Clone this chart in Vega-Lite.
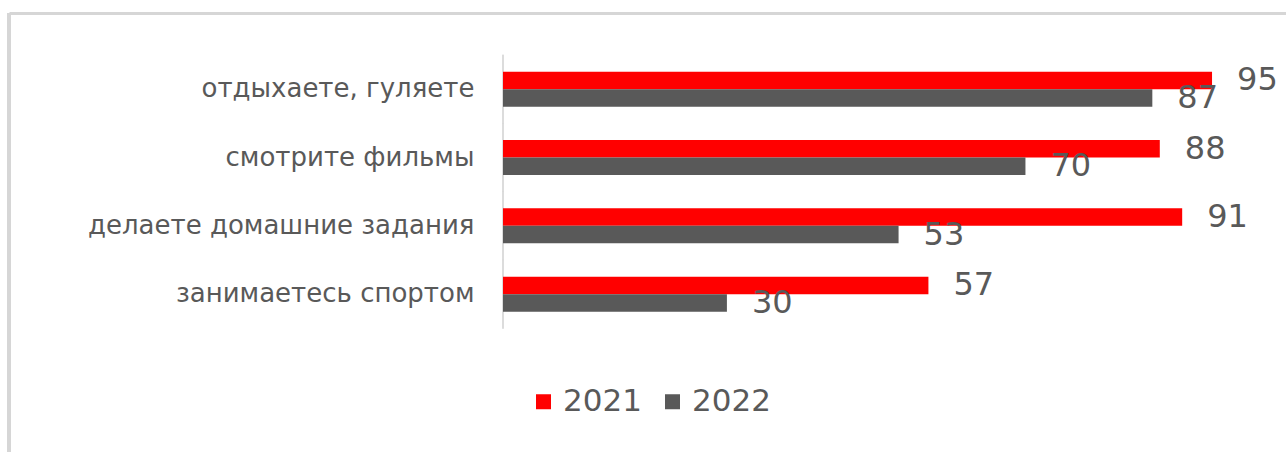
{
  "$schema": "https://vega.github.io/schema/vega-lite/v6.json",
  "width": 1277,
  "height": 376.5,
  "autosize": {"type": "none"},
  "padding": {"left": 9, "top": 13, "right": 0, "bottom": 62.5},
  "background": "white",
  "config": {"view": {"stroke": null}, "font": "DejaVu Sans"},
  "data": {
    "values": [
      {"cat": "отдыхаете, гуляете", "year": "2021", "value": 95},
      {"cat": "отдыхаете, гуляете", "year": "2022", "value": 87},
      {"cat": "смотрите фильмы", "year": "2021", "value": 88},
      {"cat": "смотрите фильмы", "year": "2022", "value": 70},
      {"cat": "делаете домашние задания", "year": "2021", "value": 91},
      {"cat": "делаете домашние задания", "year": "2022", "value": 53},
      {"cat": "занимаетесь спортом", "year": "2021", "value": 57},
      {"cat": "занимаетесь спортом", "year": "2022", "value": 30}
    ]
  },
  "resolve": {"scale": {"y": "independent"}, "axis": {"y": "independent"}},
  "layer": [
    {
      "mark": {"type": "rule", "color": "#d6d6d6", "strokeWidth": 3},
      "encoding": {
        "x": {"datum": -66.19, "type": "quantitative", "scale": {"domain": [-66.19, 104.91], "nice": false, "zero": false},
              "axis": {"orient": "top", "title": null, "labels": false, "ticks": false, "grid": false, "domain": true, "domainColor": "#d6d6d6", "domainWidth": 3}},
        "y": {"datum": 1, "type": "quantitative", "scale": {"domain": [0, 1], "nice": false, "zero": false}, "axis": null},
        "y2": {"datum": -0.3}
      }
    },
    {
      "layer": [
        {
          "mark": {"type": "tick", "color": "#d9d9d9", "thickness": 2, "size": 69},
          "encoding": {
            "x": {"datum": 0, "type": "quantitative"},
            "y": {"field": "cat", "type": "nominal", "sort": ["отдыхаете, гуляете", "смотрите фильмы", "делаете домашние задания", "занимаетесь спортом"],
                  "scale": {"paddingInner": 0.4876, "paddingOuter": 1, "align": 0.43},
                  "axis": {"title": null, "domain": false, "ticks": false, "tickSize": 0, "labelPadding": 29, "offset": -494, "labelFontSize": 26, "labelColor": "#595959", "labelFont": "DejaVu Sans", "labelLimit": 0}}
          }
        },
        {
          "mark": {"type": "bar"},
          "encoding": {
            "x": {"field": "value", "type": "quantitative"},
            "x2": {"datum": 0},
            "y": {"field": "cat", "type": "nominal", "sort": ["отдыхаете, гуляете", "смотрите фильмы", "делаете домашние задания", "занимаетесь спортом"]},
            "yOffset": {"field": "year", "type": "nominal", "scale": {"paddingInner": 0, "paddingOuter": 0}},
            "color": {"field": "year", "type": "nominal",
                      "scale": {"domain": ["2021", "2022"], "range": ["#ff0000", "#595959"]},
                      "legend": {"orient": "none", "legendX": 519, "legendY": 373, "direction": "horizontal", "title": null,
                                 "symbolType": "square", "symbolSize": 225, "symbolStrokeWidth": 0,
                                 "labelFontSize": 31, "labelColor": "#595959", "labelFont": "DejaVu Sans", "labelOffset": 4, "columnPadding": 15, "padding": 0}}
          }
        },
        {
          "mark": {"type": "text", "align": "left", "baseline": "middle", "dx": 25, "fontSize": 32, "color": "#595959", "font": "DejaVu Sans"},
          "encoding": {
            "x": {"field": "value", "type": "quantitative"},
            "y": {"field": "cat", "type": "nominal", "sort": ["отдыхаете, гуляете", "смотрите фильмы", "делаете домашние задания", "занимаетесь спортом"]},
            "yOffset": {"field": "year", "type": "nominal"},
            "text": {"field": "value", "type": "quantitative"}
          }
        }
      ]
    }
  ]
}
